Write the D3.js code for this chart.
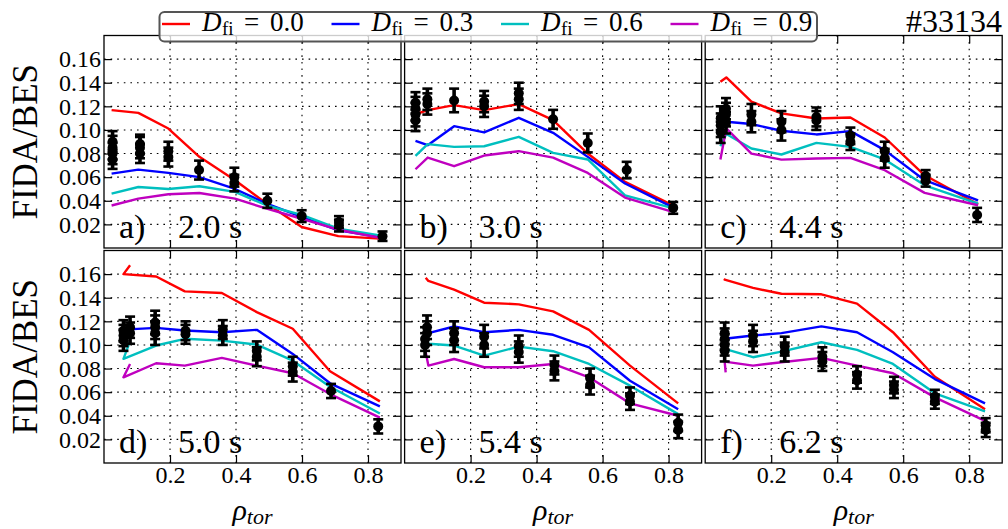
<!DOCTYPE html>
<html><head><meta charset="utf-8">
<script src="https://cdn.jsdelivr.net/npm/d3@7"></script>
<style>
body{margin:0;background:#fff}
svg{display:block}
text{font-family:"Liberation Serif","Times New Roman",serif;fill:#000}
</style>
</head><body><svg id="c" width="1008" height="529"></svg>
<script>
// ---------------- data ----------------
const panelLabels = ["a)", "b)", "c)", "d)", "e)", "f)"];
const panelTimes = ["2.0 s", "3.0 s", "4.4 s", "5.0 s", "5.4 s", "6.2 s"];
const seriesNames = ["0.0", "0.3", "0.6", "0.9"];
const seriesColors = ["#ff0000", "#0000ff", "#00bfbf", "#bf00bf"];
const xTicks = [0.2, 0.4, 0.6, 0.8];
const yTicks = [0.02, 0.04, 0.06, 0.08, 0.10, 0.12, 0.14, 0.16];
const shotLabel = "#33134";
const yLabel = "FIDA/BES";

// simulated profile rho per panel
const simRho = [
  [0.023, 0.104, 0.195, 0.289, 0.397, 0.493, 0.599, 0.710, 0.836],
  [0.033, 0.070, 0.150, 0.241, 0.346, 0.450, 0.555, 0.668, 0.807],
  [0.046, 0.064, 0.140, 0.231, 0.337, 0.440, 0.544, 0.665, 0.827],
  [0.079, 0.059, 0.158, 0.245, 0.357, 0.463, 0.572, 0.685, 0.836],
  [0.064, 0.072, 0.150, 0.241, 0.346, 0.450, 0.559, 0.683, 0.829],
  [0.062, 0.059, 0.145, 0.231, 0.352, 0.460, 0.569, 0.696, 0.848]
];
// D_fi = 0.0
const dfi00 = [
  [0.1168, 0.1145, 0.1012, 0.0772, 0.0574, 0.0376, 0.0178, 0.0101, 0.0079],
  [0.1133, 0.1168, 0.1210, 0.1168, 0.1219, 0.1083, 0.0800, 0.0560, 0.0370],
  [0.1408, 0.1445, 0.1239, 0.1140, 0.1097, 0.1106, 0.0936, 0.0616, 0.0370],
  [0.1675, 0.1600, 0.1580, 0.1454, 0.1440, 0.1278, 0.1137, 0.0777, 0.0522],
  [0.1570, 0.1542, 0.1468, 0.1358, 0.1344, 0.1284, 0.1128, 0.0825, 0.0505],
  [0.1560, 0.1553, 0.1483, 0.1434, 0.1429, 0.1350, 0.1108, 0.0731, 0.0456]
];
// D_fi = 0.3
const dfi03 = [
  [0.0630, 0.0664, 0.0636, 0.0600, 0.0500, 0.0376, 0.0263, 0.0150, 0.0093],
  [0.0907, 0.0871, 0.1032, 0.0979, 0.1103, 0.0976, 0.0772, 0.0546, 0.0353],
  [0.1070, 0.1069, 0.1050, 0.0993, 0.0962, 0.0990, 0.0829, 0.0574, 0.0404],
  [0.1151, 0.1130, 0.1145, 0.1122, 0.1108, 0.1128, 0.0924, 0.0675, 0.0479],
  [0.1080, 0.1100, 0.1156, 0.1108, 0.1128, 0.1086, 0.0980, 0.0697, 0.0456],
  [0.1052, 0.1052, 0.1080, 0.1100, 0.1157, 0.1108, 0.0938, 0.0711, 0.0505]
];
// D_fi = 0.6
const dfi06 = [
  [0.0460, 0.0517, 0.0500, 0.0523, 0.0475, 0.0360, 0.0280, 0.0164, 0.0107],
  [0.0780, 0.0880, 0.0857, 0.0862, 0.0942, 0.0806, 0.0750, 0.0446, 0.0342],
  [0.0862, 0.0965, 0.0843, 0.0792, 0.0890, 0.0857, 0.0750, 0.0531, 0.0376],
  [0.1032, 0.0882, 0.0995, 0.1052, 0.1037, 0.1003, 0.0867, 0.0646, 0.0419],
  [0.1015, 0.1010, 0.0995, 0.0910, 0.0986, 0.0947, 0.0839, 0.0655, 0.0414],
  [0.0967, 0.0967, 0.0896, 0.0944, 0.1023, 0.0958, 0.0839, 0.0590, 0.0437]
];
// D_fi = 0.9
const dfi09 = [
  [0.0360, 0.0418, 0.0455, 0.0466, 0.0418, 0.0333, 0.0248, 0.0155, 0.0087],
  [0.0667, 0.0766, 0.0693, 0.0783, 0.0820, 0.0766, 0.0636, 0.0427, 0.0310],
  [0.0749, 0.1013, 0.0800, 0.0749, 0.0758, 0.0763, 0.0659, 0.0467, 0.0362],
  [0.0839, 0.0726, 0.0845, 0.0825, 0.0890, 0.0825, 0.0760, 0.0584, 0.0385],
  [0.0938, 0.0825, 0.0881, 0.0811, 0.0811, 0.0839, 0.0726, 0.0505, 0.0400],
  [0.0768, 0.0859, 0.0825, 0.0853, 0.0890, 0.0825, 0.0760, 0.0556, 0.0357]
];
// measured FIDA/BES
const measRho = [
  [0.026, 0.026, 0.026, 0.026, 0.109, 0.109, 0.109, 0.195, 0.195, 0.288, 0.395, 0.395, 0.495, 0.599, 0.712, 0.712, 0.844],
  [0.033, 0.033, 0.033, 0.033, 0.069, 0.069, 0.150, 0.241, 0.241, 0.346, 0.346, 0.450, 0.555, 0.673, 0.814],
  [0.047, 0.047, 0.047, 0.063, 0.063, 0.063, 0.140, 0.140, 0.231, 0.231, 0.337, 0.337, 0.440, 0.440, 0.544, 0.544, 0.668, 0.668, 0.824],
  [0.059, 0.059, 0.059, 0.079, 0.079, 0.155, 0.155, 0.155, 0.247, 0.247, 0.360, 0.360, 0.463, 0.463, 0.572, 0.572, 0.688, 0.831],
  [0.062, 0.062, 0.068, 0.068, 0.150, 0.150, 0.241, 0.241, 0.346, 0.346, 0.454, 0.454, 0.562, 0.562, 0.683, 0.683, 0.829, 0.829],
  [0.059, 0.059, 0.059, 0.059, 0.145, 0.145, 0.241, 0.241, 0.355, 0.355, 0.460, 0.460, 0.572, 0.572, 0.696, 0.696, 0.850, 0.850]
];
const measVal = [
  [0.075, 0.080, 0.085, 0.090, 0.080, 0.085, 0.088, 0.077, 0.082, 0.066, 0.055, 0.060, 0.040, 0.027, 0.019, 0.022, 0.010],
  [0.108, 0.113, 0.118, 0.123, 0.122, 0.126, 0.125, 0.120, 0.124, 0.126, 0.131, 0.109, 0.089, 0.066, 0.034],
  [0.098, 0.104, 0.110, 0.106, 0.113, 0.118, 0.107, 0.113, 0.100, 0.107, 0.108, 0.111, 0.090, 0.095, 0.076, 0.082, 0.057, 0.061, 0.028],
  [0.104, 0.108, 0.112, 0.110, 0.115, 0.110, 0.115, 0.119, 0.109, 0.112, 0.108, 0.113, 0.090, 0.095, 0.077, 0.082, 0.061, 0.031],
  [0.100, 0.105, 0.110, 0.115, 0.104, 0.110, 0.100, 0.107, 0.094, 0.099, 0.078, 0.083, 0.066, 0.072, 0.052, 0.057, 0.028, 0.034],
  [0.095, 0.100, 0.105, 0.110, 0.103, 0.108, 0.094, 0.099, 0.086, 0.090, 0.070, 0.075, 0.062, 0.066, 0.052, 0.056, 0.028, 0.032]
];
const measErr = [
  [0.008, 0.009, 0.010, 0.009, 0.008, 0.009, 0.008, 0.008, 0.008, 0.008, 0.007, 0.008, 0.006, 0.005, 0.005, 0.005, 0.004],
  [0.009, 0.010, 0.010, 0.009, 0.009, 0.009, 0.010, 0.009, 0.009, 0.009, 0.009, 0.008, 0.008, 0.007, 0.005],
  [0.009, 0.010, 0.010, 0.009, 0.010, 0.009, 0.009, 0.009, 0.009, 0.009, 0.008, 0.008, 0.007, 0.007, 0.008, 0.008, 0.005, 0.005, 0.006],
  [0.009, 0.009, 0.009, 0.009, 0.009, 0.010, 0.010, 0.010, 0.008, 0.008, 0.008, 0.008, 0.008, 0.008, 0.008, 0.008, 0.006, 0.006],
  [0.010, 0.010, 0.010, 0.010, 0.010, 0.010, 0.010, 0.010, 0.009, 0.009, 0.008, 0.008, 0.008, 0.008, 0.007, 0.007, 0.007, 0.007],
  [0.009, 0.009, 0.009, 0.009, 0.009, 0.009, 0.008, 0.008, 0.008, 0.008, 0.007, 0.007, 0.007, 0.007, 0.006, 0.006, 0.006, 0.006]
];
const simSeries = [dfi00, dfi03, dfi06, dfi09];

// ---------------- layout ----------------
const left0 = 104, pw = 297, gapX = 3.6;
const top0 = 35.5, ph = 212.5, gapY = 2.5;
const svg = d3.select("#c");
const serif = "Liberation Serif, Times New Roman, serif";

panelLabels.forEach((lab, i) => {
  const col = i % 3, row = Math.floor(i / 3);
  const px = left0 + col * (pw + gapX), py = top0 + row * (ph + gapY);
  const x = d3.scaleLinear().domain([0, 0.9]).range([px, px + pw]);
  const y = d3.scaleLinear().domain([0, 0.18]).range([py + ph, py]);
  const g = svg.append("g");

  // grid
  g.selectAll(".gx").data(xTicks).join("line")
    .attr("x1", d => x(d)).attr("x2", d => x(d)).attr("y1", py).attr("y2", py + ph)
    .attr("stroke", "#000").attr("stroke-width", 1.1).attr("stroke-dasharray", "1.6,5");
  g.selectAll(".gy").data(yTicks).join("line")
    .attr("x1", px).attr("x2", px + pw).attr("y1", d => y(d)).attr("y2", d => y(d))
    .attr("stroke", "#000").attr("stroke-width", 1.1).attr("stroke-dasharray", "1.6,5");

  // axes (inward ticks on all sides)
  const axL = d3.axisLeft(y).tickValues(yTicks).tickSize(-8).tickPadding(3)
    .tickFormat(col === 0 ? d3.format(".2f") : () => "");
  const axR = d3.axisRight(y).tickValues(yTicks).tickSize(-8).tickFormat(() => "");
  const axB = d3.axisBottom(x).tickValues(xTicks).tickSize(-8).tickPadding(3)
    .tickFormat(row === 1 ? d3.format(".1f") : () => "");
  const axT = d3.axisTop(x).tickValues(xTicks).tickSize(-8).tickFormat(() => "");
  const styleAx = sel => {
    sel.attr("font-family", serif).attr("font-size", 24);
    sel.select(".domain").remove();
    sel.selectAll(".tick line").attr("stroke", "#000").attr("stroke-width", 1.2);
    sel.selectAll(".tick text").attr("fill", "#000");
  };
  g.append("g").attr("transform", `translate(${px},0)`).call(axL).call(styleAx);
  g.append("g").attr("transform", `translate(${px + pw},0)`).call(axR).call(styleAx);
  g.append("g").attr("transform", `translate(0,${py + ph})`).call(axB).call(styleAx);
  g.append("g").attr("transform", `translate(0,${py})`).call(axT).call(styleAx);

  // simulated lines
  simSeries.forEach((s, k) => {
    const pts = simRho[i].map((r, j) => [r, s[i][j]]);
    g.append("path").datum(pts)
      .attr("d", d3.line().x(d => x(d[0])).y(d => y(d[1])))
      .attr("fill", "none").attr("stroke", seriesColors[k]).attr("stroke-width", 2.4)
      .attr("stroke-linejoin", "round");
  });

  // measurements with error bars
  const meas = measRho[i].map((r, j) => ({ r, v: measVal[i][j], e: measErr[i][j] }));
  const mg = g.append("g");
  meas.forEach(m => {
    const cx = x(m.r);
    mg.append("line").attr("x1", cx).attr("x2", cx).attr("y1", y(m.v - m.e)).attr("y2", y(m.v + m.e))
      .attr("stroke", "#000").attr("stroke-width", 3.6);
    [m.v - m.e, m.v + m.e].forEach(c => {
      mg.append("line").attr("x1", cx - 5).attr("x2", cx + 5).attr("y1", y(c)).attr("y2", y(c))
        .attr("stroke", "#000").attr("stroke-width", 2.6);
    });
    mg.append("circle").attr("cx", cx).attr("cy", y(m.v)).attr("r", 5).attr("fill", "#000");
  });

  // frame
  g.append("rect").attr("x", px).attr("y", py).attr("width", pw).attr("height", ph)
    .attr("fill", "none").attr("stroke", "#000").attr("stroke-width", 1.3);

  // panel labels
  g.append("text").attr("x", px + 15).attr("y", py + ph - 10.5).attr("font-size", 34).text(lab);
  g.append("text").attr("x", px + 74).attr("y", py + ph - 10.5).attr("font-size", 34).text(panelTimes[i]);

  // x label
  if (row === 1) {
    const t = svg.append("text").attr("x", px + pw / 2).attr("y", 520).attr("text-anchor", "middle")
      .attr("font-style", "italic");
    t.append("tspan").attr("font-size", 30).text("ρ");
    t.append("tspan").attr("font-size", 22).attr("dy", 4).text("tor");
  }
  // y label
  if (col === 0) {
    svg.append("text").attr("transform", `translate(37,${py + ph / 2}) rotate(-90)`)
      .attr("text-anchor", "middle").attr("font-size", 35).text(yLabel);
  }
});

// shot number
svg.append("text").attr("x", 1002).attr("y", 32).attr("text-anchor", "end")
  .attr("font-size", 32).text(shotLabel);

// legend
const lg = svg.append("g");
lg.append("rect").attr("x", 159.5).attr("y", 12).attr("width", 657.5).attr("height", 29.5)
  .attr("rx", 5).attr("fill", "#fff").attr("fill-opacity", 0.8)
  .attr("stroke", "#555").attr("stroke-width", 2);
seriesNames.forEach((n, k) => {
  const x0 = 162 + k * 169.5;
  lg.append("line").attr("x1", x0).attr("x2", x0 + 28).attr("y1", 24).attr("y2", 24)
    .attr("stroke", seriesColors[k]).attr("stroke-width", 2.4);
  const tx = x0 + 40;
  lg.append("text").attr("x", tx).attr("y", 31).attr("font-size", 27).attr("font-style", "italic").text("D");
  lg.append("text").attr("x", tx + 20).attr("y", 35).attr("font-size", 19).text("fi");
  lg.append("text").attr("x", tx + 42).attr("y", 31).attr("font-size", 27).text("=");
  lg.append("text").attr("x", tx + 68).attr("y", 31).attr("font-size", 27).text(n);
});
</script>
</body></html>
